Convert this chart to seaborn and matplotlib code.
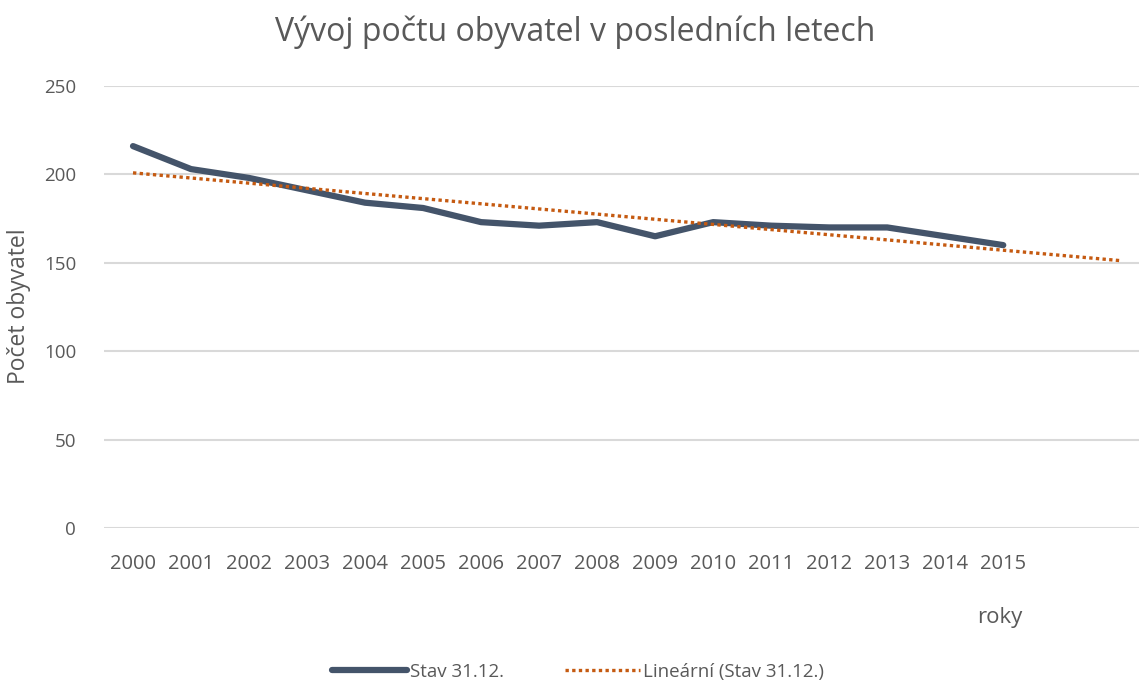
import numpy as np
import pandas as pd
import matplotlib
matplotlib.use("Agg")
import matplotlib.pyplot as plt
import seaborn as sns
from matplotlib.lines import Line2D

years = ["2000", "2001", "2002", "2003", "2004", "2005", "2006", "2007",
         "2008", "2009", "2010", "2011", "2012", "2013", "2014", "2015"]
population = [216, 203, 198, 191, 184, 181, 173, 171, 173, 165, 173, 171, 170, 170, 165, 160]
forecast_periods = 2
y_ticks = [0, 50, 100, 150, 200, 250]

sns.set_theme(style="white")
plt.rcParams['font.family'] = ['Open Sans', 'DejaVu Sans']

line_color = "#44546A"
trend_color = "#C55A11"
text_color = "#595959"
grid_color = "#D9D9D9"

x = np.arange(len(years))
df = pd.DataFrame({"x": x, "pop": population})
coef = np.polyfit(x, population, 1)
xt = np.arange(len(years) + forecast_periods)
trend = pd.DataFrame({"x": xt, "trend": np.polyval(coef, xt)})

fig = plt.figure(figsize=(11.39, 6.85), dpi=100)
ax = fig.add_axes([104/1139, 157/685, 1035/1139, 442/685])

for t in y_ticks:
    ax.axhline(t, color=grid_color, lw=1.5, zorder=0)

sns.lineplot(data=df, x="x", y="pop", ax=ax, color=line_color, lw=4.5,
             solid_capstyle="round", zorder=3)
sns.lineplot(data=trend, x="x", y="trend", ax=ax, color=trend_color, lw=2.4,
             linestyle=(0, (1, 1)), dash_capstyle="butt", zorder=4)

ax.set_xlim(-0.5, 17.34)
ax.set_ylim(0, 250)
ax.set_xticks(x)
ax.set_xticklabels(years)
ax.set_yticks(y_ticks)
ax.tick_params(axis="x", colors=text_color, labelsize=14.5, length=0, pad=19)
ax.tick_params(axis="y", colors=text_color, labelsize=13.5, length=0, pad=20)
for s in ax.spines.values():
    s.set_visible(False)
ax.set_xlabel("")
ax.set_ylabel("")

fig.text(19/1139, 1 - 306/685, "Počet obyvatel", rotation=90, ha="center", va="center",
         fontsize=16.5, color=text_color)
fig.text(575/1139, 1 - 32/685, "Vývoj počtu obyvatel v posledních letech",
         ha="center", va="center", fontsize=23, color=text_color)
fig.text(1000/1139, 1 - 618/685, "roky", ha="center", va="center",
         fontsize=16, color=text_color)

handles = [Line2D([], [], color=line_color, lw=4.5, solid_capstyle="round"),
           Line2D([], [], color=trend_color, lw=2.4, linestyle=(0, (1, 1)))]
leg = fig.legend(handles, ["Stav 31.12.", "Lineární (Stav 31.12.)"],
                 loc="center", bbox_to_anchor=(578/1139, 1 - 672/685), ncol=2,
                 frameon=False, handlelength=4, columnspacing=3.2,
                 handletextpad=0.2, prop={'size': 13.5})
for t in leg.get_texts():
    t.set_color(text_color)

fig.savefig("out.png", dpi=100)
